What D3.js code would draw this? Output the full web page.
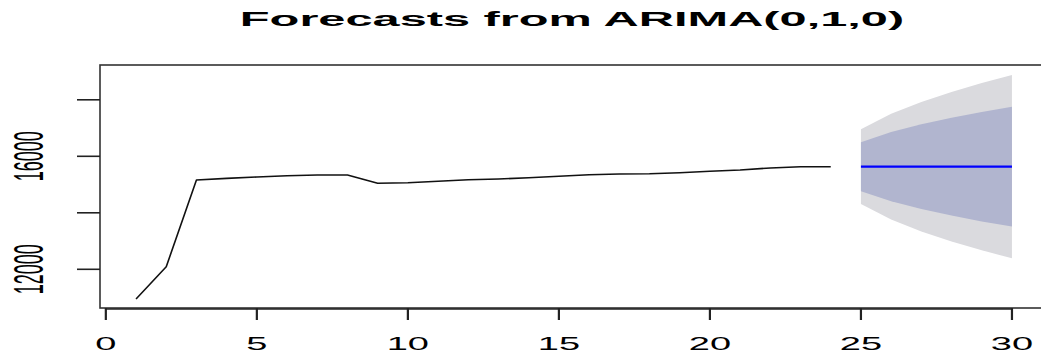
<!DOCTYPE html>
<html>
<head>
<meta charset="utf-8">
<script src="https://cdn.jsdelivr.net/npm/d3@7"></script>
<style>
  html, body { margin: 0; padding: 0; background: #ffffff; }
  svg { display: block; }
  text { font-family: "Liberation Sans", Arial, Helvetica, sans-serif; fill: #000; }
</style>
</head>
<body>
<svg id="chart" width="1041" height="358"></svg>
<script>
// Observed series (t = 1..24)
const observedTime = d3.range(1, 25);
const observed = [10950, 12090, 15160, 15220, 15267, 15313, 15338, 15338,
                  15044, 15066, 15115, 15172, 15196, 15243, 15292, 15349,
                  15373, 15384, 15420, 15469, 15515, 15586, 15630, 15632];

// Forecast horizon (t = 25..30) with 80% and 95% intervals
const forecastTime = [25, 26, 27, 28, 29, 30];
const forecastMean = [15632, 15632, 15632, 15632, 15632, 15632];
const lower80 = [14766, 14408, 14133, 13901, 13696, 13512];
const upper80 = [16498, 16856, 17131, 17363, 17568, 17752];
const lower95 = [14308, 13760, 13339, 12984, 12671, 12389];
const upper95 = [16956, 17504, 17925, 18280, 18593, 18875];

// Axis ticks
const xTicks = [0, 5, 10, 15, 20, 25, 30];
const yTicks = [12000, 14000, 16000, 18000];
const yTickLabels = ["12000", "", "16000", ""];

const titleText = "Forecasts from ARIMA(0,1,0)";

const svg = d3.select("#chart");

const box = { left: 100, top: 65, right: 1047, bottom: 308 };

const x = d3.scaleLinear().domain([-0.16, 31.16]).range([101, 1047]);
const y = d3.scaleLinear().domain([10630, 19232]).range([box.bottom, box.top]);

// Prediction interval fans
const lo95 = forecastTime.map((t, i) => ({ t, lo: lower95[i], hi: upper95[i] }));
const lo80 = forecastTime.map((t, i) => ({ t, lo: lower80[i], hi: upper80[i] }));
const band = d3.area().x(d => x(d.t)).y0(d => y(d.lo)).y1(d => y(d.hi));

svg.append("path").datum(lo95).attr("d", band).attr("fill", "#dadade");
svg.append("path").datum(lo80).attr("d", band).attr("fill", "#b1b5cf");

// Observed line
const line = d3.line().x(d => x(d[0])).y(d => y(d[1]));
svg.append("path")
  .datum(observedTime.map((t, i) => [t, observed[i]]))
  .attr("d", line)
  .attr("fill", "none")
  .attr("stroke", "#111")
  .attr("stroke-width", 1.6)
  .attr("stroke-linejoin", "round");

// Point forecast
svg.append("path")
  .datum(forecastTime.map((t, i) => [t, forecastMean[i]]))
  .attr("d", line)
  .attr("fill", "none")
  .attr("stroke", "#0000ff")
  .attr("stroke-width", 2.2);

// Plot frame
svg.append("rect")
  .attr("x", box.left).attr("y", box.top)
  .attr("width", box.right - box.left).attr("height", box.bottom - box.top)
  .attr("fill", "none").attr("stroke", "#333").attr("stroke-width", 1.6);

// X axis
const xAxis = svg.append("g");
xAxis.append("line")
  .attr("x1", x(xTicks[0])).attr("x2", x(xTicks[xTicks.length - 1]))
  .attr("y1", box.bottom + 1).attr("y2", box.bottom + 1)
  .attr("stroke", "#222").attr("stroke-width", 1.6);
xAxis.selectAll("line.tick").data(xTicks).join("line")
  .attr("class", "tick")
  .attr("x1", d => x(d)).attr("x2", d => x(d))
  .attr("y1", box.bottom).attr("y2", box.bottom + 12)
  .attr("stroke", "#222").attr("stroke-width", 2.2);
xAxis.selectAll("text").data(xTicks).join("text")
  .attr("text-anchor", "middle")
  .attr("font-size", 19)
  .attr("transform", d => `translate(${x(d)},350) scale(2.0,1)`)
  .text(d => d);

// Y axis
const yAxis = svg.append("g");
yAxis.selectAll("line").data(yTicks).join("line")
  .attr("x1", 77).attr("x2", box.left)
  .attr("y1", d => y(d)).attr("y2", d => y(d))
  .attr("stroke", "#222").attr("stroke-width", 1.6);
yAxis.selectAll("text").data(yTicks).join("text")
  .attr("text-anchor", "middle")
  .attr("font-size", 18)
  .attr("transform", d => `translate(43,${y(d)}) scale(2.35,1) rotate(-90)`)
  .text((d, i) => yTickLabels[i]);

// Title
svg.append("text")
  .attr("text-anchor", "middle")
  .attr("font-size", 19.5)
  .attr("font-weight", "bold")
  .attr("transform", "translate(572,26) scale(2.5,1)")
  .text(titleText);
</script>
</body>
</html>
